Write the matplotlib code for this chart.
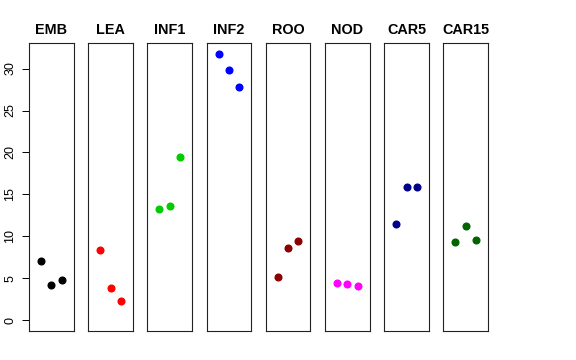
import numpy as np
import matplotlib
matplotlib.use("Agg")
import matplotlib.pyplot as plt

plt.rcParams['font.family'] = ['Liberation Sans', 'DejaVu Sans']

# tissues and their three replicate values
tissues = ['EMB', 'LEA', 'INF1', 'INF2', 'ROO', 'NOD', 'CAR5', 'CAR15']
values = [
    [7.1, 4.2, 4.76],
    [8.37, 3.88, 2.26],
    [13.25, 13.64, 19.44],
    [31.74, 29.83, 27.81],
    [5.19, 8.64, 9.4],
    [4.48, 4.32, 4.12],
    [11.43, 15.9, 15.9],
    [9.29, 11.23, 9.6],
]
colors = ['black', 'red', '#00CD00', 'blue', '#8B0000', 'magenta', '#00008B', '#006400']
yticks = [0, 5, 10, 15, 20, 25, 30]

W, H = 576, 360
fig = plt.figure(figsize=(W / 100, H / 100), dpi=100)

left0 = 29.0
step = 59.2
pw = 44.6
top_px, bot_px = 43.3, 331.0

ymax = max(max(v) for v in values)
pad = ymax * 0.04
for i, (name, vals, col) in enumerate(zip(tissues, values, colors)):
    x0 = left0 + i * step
    ax = fig.add_axes([x0 / W, (H - bot_px) / H, pw / W, (bot_px - top_px) / H])
    ax.plot([1, 2, 3], vals, 'o', color=col, ms=4.8, mec=col)
    ax.set_xlim(-0.16, 4.16)
    ax.set_ylim(-pad, ymax + pad)
    ax.set_xticks([])
    for s in ax.spines.values():
        s.set_linewidth(0.8)
        s.set_color('#222222')
    if i == 0:
        ax.set_yticks(yticks)
        ax.tick_params(axis='y', length=5.2, width=0.7, pad=4.0, labelsize=9,
                       labelrotation=90)
        for lab in ax.get_yticklabels():
            lab.set_va('center')
    else:
        ax.set_yticks([])
    ax.set_title(name, fontsize=10.4, fontweight='bold', pad=6.5)

fig.savefig('out.png', dpi=100)
